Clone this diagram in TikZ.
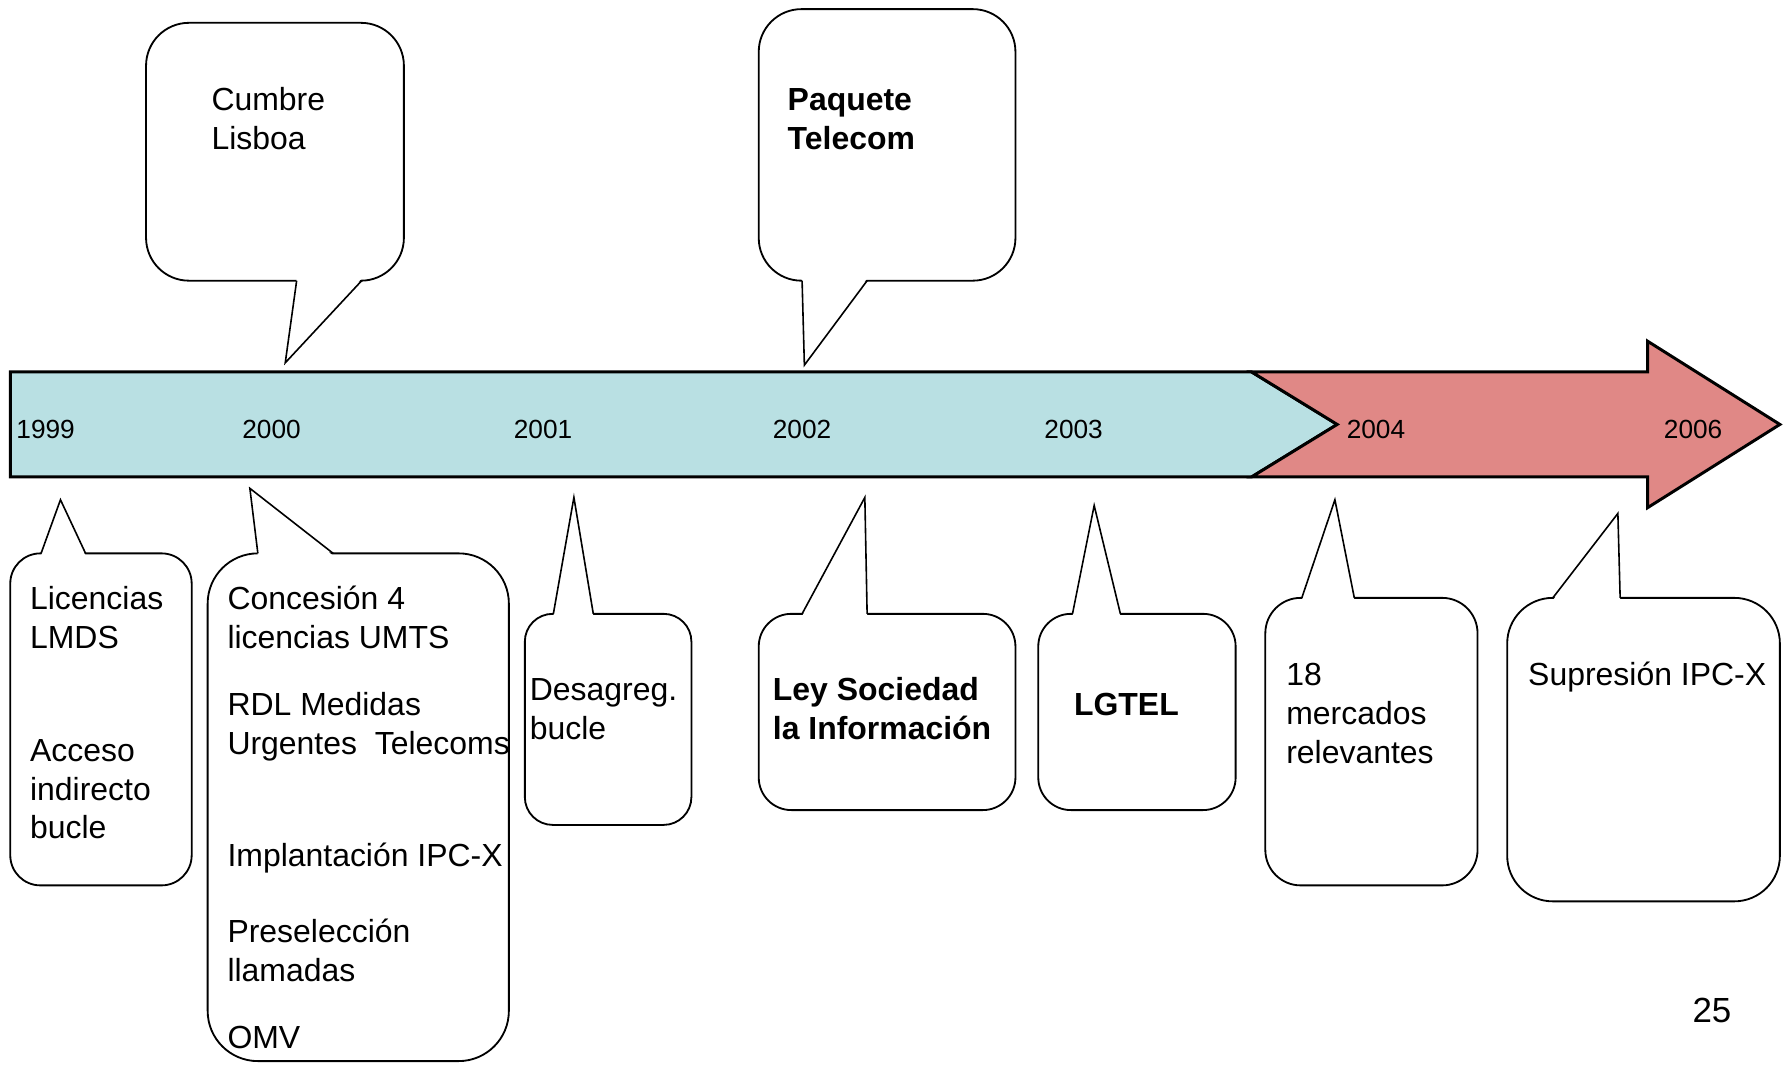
\documentclass[tikz,border=0pt]{standalone}
\usepackage{fontspec}
\setmainfont{Liberation Sans}
\usepackage{tikz}
\definecolor{tlblue}{RGB}{185,224,227}
\definecolor{tlred}{RGB}{224,136,134}

\begin{document}
\begin{tikzpicture}[x=0.5pt,y=-0.5pt,
    bar/.style={draw,line width=1.3pt,line join=miter},
    box/.style={draw,fill=white,line width=0.8pt},
    tail/.style={line width=0.7pt,line join=miter},
    note/.style={anchor=north west,inner sep=0pt,align=left,font=\fontsize{14}{17}\selectfont},
    year/.style={anchor=west,inner sep=0pt,font=\fontsize{11.5}{13}\selectfont}]
   \useasboundingbox (0,0) rectangle (1568,933);

   % time bar
   \draw[bar,fill=tlblue] (9,326) -- (1097,326) -- (1172,372) -- (1097,418) -- (9,418) -- cycle;
   \draw[bar,fill=tlred] (1097,326) -- (1444,326) -- (1444,299) -- (1560,372) -- (1444,445) -- (1444,418) -- (1097,418) -- (1172,372) -- cycle;

   \node[year] (y1999) at (14,376) {1999};
   \node[year] (y2000) at (212,376) {2000};
   \node[year] (y2001) at (450,376) {2001};
   \node[year] (y2002) at (677,376) {2002};
   \node[year] (y2003) at (915,376) {2003};
   \node[year] (y2004) at (1180,376) {2004};
   \node[year] (y2006) at (1458,376) {2006};

   % callouts above
   \draw[box,rounded corners=18.8pt] (128,20) rectangle (354,246);
   \fill[white] (260,244) -- (250,318) -- (317,244) -- cycle;
   \draw[tail] (260,246) -- (250,318) -- (317,246);
   \node[note] (cumbre) at (185,73) {\strut Cumbre\\Lisboa};

   \draw[box,rounded corners=18.7pt] (665,8) rectangle (890,246);
   \fill[white] (703,244) -- (705,320) -- (760,244) -- cycle;
   \draw[tail] (703,246) -- (705,320) -- (760,246);
   \node[note,font=\fontsize{14}{17}\selectfont\bfseries] (paquete) at (690,73) {\strut Paquete\\Telecom};

   % callouts below
   \draw[box,rounded corners=13.2pt] (9,485) rectangle (168,776);
   \fill[white] (36,487) -- (53,438) -- (75,487) -- cycle;
   \draw[tail] (36,485) -- (53,438) -- (75,485);
   \node[note] (lmds) at (26,510) {\strut Licencias\\LMDS};
   \node[note] (acceso) at (26,643) {\strut Acceso\\indirecto\\bucle};

   \draw[box,rounded corners=22pt] (182,485) rectangle (446,930);
   \fill[white] (226,487) -- (219,428) -- (292,487) -- cycle;
   \draw[tail] (226,485) -- (219,428) -- (292,485);
   \node[note] (umts) at (199,510) {\strut Concesión 4\\licencias UMTS};
   \node[note] (rdl) at (199,603) {\strut RDL Medidas\\Urgentes~~Telecoms};
   \node[note] (ipcx) at (199,735) {\strut Implantación IPC-X};
   \node[note] (presel) at (199,802) {\strut Preselección\\llamadas};
   \node[note] (omv) at (199,895) {\strut OMV};

   \draw[box,rounded corners=12.2pt] (460,538) rectangle (606,723);
   \fill[white] (485,540) -- (503,436) -- (520,540) -- cycle;
   \draw[tail] (485,538) -- (503,436) -- (520,538);
   \node[note] (desagreg) at (464,590) {\strut Desagreg.\\bucle};

   \draw[box,rounded corners=14.3pt] (665,538) rectangle (890,710);
   \fill[white] (703,540) -- (758,436) -- (760,540) -- cycle;
   \draw[tail] (703,538) -- (758,436) -- (760,538);
   \node[note,font=\fontsize{14}{17}\selectfont\bfseries] (ley) at (677,590) {\strut Ley Sociedad\\la Información};

   \draw[box,rounded corners=14.3pt] (910,538) rectangle (1083,710);
   \fill[white] (940,540) -- (959,443) -- (982,540) -- cycle;
   \draw[tail] (940,538) -- (959,443) -- (982,538);
   \node[note,font=\fontsize{14}{17}\selectfont\bfseries] (lgtel) at (941,603) {\strut LGTEL};

   \draw[box,rounded corners=15.5pt] (1109,524) rectangle (1295,776);
   \fill[white] (1141,526) -- (1170,438) -- (1187,526) -- cycle;
   \draw[tail] (1141,524) -- (1170,438) -- (1187,524);
   \node[note] (mercados) at (1127,577) {\strut 18\\mercados\\relevantes};

   \draw[box,rounded corners=20pt] (1321,524) rectangle (1560,790);
   \fill[white] (1361,526) -- (1418,450) -- (1420,526) -- cycle;
   \draw[tail] (1361,524) -- (1418,450) -- (1420,524);
   \node[note] (supresion) at (1339,577) {\strut Supresión IPC-X};

   \node[anchor=west,inner sep=0pt,font=\fontsize{15.3}{18}\selectfont] (page) at (1483,886) {25};
\end{tikzpicture}
\end{document}
